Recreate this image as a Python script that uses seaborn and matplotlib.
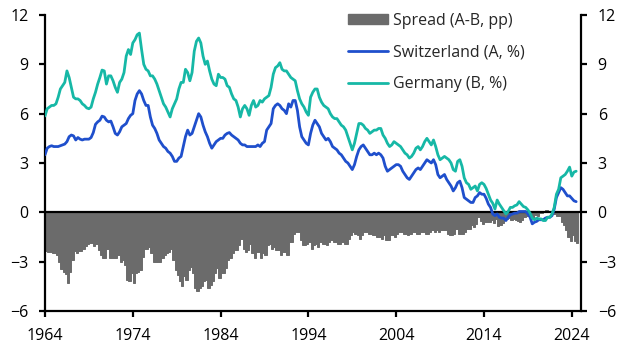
import numpy as np
import pandas as pd
import matplotlib
matplotlib.use("Agg")
from matplotlib import pyplot as plt
from matplotlib.lines import Line2D
from matplotlib.patches import Patch
import seaborn as sns

# quarterly observations, 1964Q1 .. 2024Q3 (decimal years)
quarters = np.arange(1964.0, 2024.51, 0.25)

# 10y government bond yields, %
switzerland = [
    3.5, 3.9, 4.0, 4.05, 4.0, 4.0, 4.0, 4.05, 4.1, 4.15, 4.3, 4.6,
    4.7, 4.65, 4.4, 4.55, 4.45, 4.4, 4.45, 4.45, 4.45, 4.55, 4.85, 5.35,
    5.5, 5.6, 5.85, 5.8, 5.6, 5.5, 5.55, 5.2, 4.8, 4.7, 4.9, 5.2,
    5.3, 5.4, 5.7, 5.9, 6.0, 6.8, 7.2, 7.4, 7.2, 6.8, 6.5, 6.5,
    5.8, 5.3, 5.1, 4.8, 4.4, 4.2, 4.0, 3.9, 3.7, 3.6, 3.4, 3.1,
    3.1, 3.3, 3.4, 4.0, 4.6, 5.0, 4.7, 4.8, 5.2, 5.6, 6.0, 5.8,
    5.3, 4.9, 4.6, 4.2, 3.9, 4.1, 4.3, 4.4, 4.5, 4.5, 4.7, 4.8,
    4.85, 4.7, 4.6, 4.5, 4.4, 4.2, 4.1, 4.1, 4.0, 4.0, 4.0, 4.0,
    4.0, 4.1, 4.0, 4.2, 4.3, 5.0, 5.2, 5.4, 6.3, 6.5, 6.6, 6.5,
    6.3, 6.2, 6.0, 6.6, 6.4, 6.8, 6.8, 6.2, 5.2, 4.6, 4.4, 4.2,
    4.1, 4.8, 5.3, 5.6, 5.4, 5.2, 4.8, 4.6, 4.4, 4.5, 4.3, 4.0,
    3.9, 3.8, 3.6, 3.5, 3.3, 3.1, 3.0, 2.8, 2.6, 2.9, 3.4, 3.8,
    4.0, 4.1, 3.9, 3.7, 3.5, 3.5, 3.6, 3.5, 3.6, 3.5, 3.3, 2.8,
    2.5, 2.6, 2.7, 2.8, 2.9, 2.9, 2.8, 2.5, 2.3, 2.1, 2.0, 2.2,
    2.4, 2.6, 2.7, 2.6, 2.8, 3.0, 3.2, 3.1, 3.0, 3.2, 2.9, 2.3,
    2.1, 2.2, 2.3, 2.0, 1.8, 1.6, 1.3, 1.5, 1.8, 1.9, 1.5, 0.9,
    0.8, 0.7, 0.6, 0.6, 0.9, 1.0, 1.2, 1.1, 1.1, 0.85, 0.5, 0.3,
    -0.1, -0.2, -0.1, -0.3, -0.35, -0.35, -0.5, -0.3, -0.15, -0.1, -0.05, -0.05,
    0.05, 0.05, 0.05, 0.05, -0.1, -0.3, -0.7, -0.6, -0.55, -0.45, -0.45, -0.45,
    -0.35, -0.3, -0.3, -0.2, 0.2, 0.9, 1.2, 1.5, 1.4, 1.2, 1.0, 1.0,
    0.85, 0.7, 0.65,
]
germany = [
    5.86, 6.3, 6.4, 6.5, 6.5, 6.6, 7.0, 7.5, 7.7, 7.9, 8.6, 8.2,
    7.6, 7.0, 6.9, 6.9, 6.8, 6.6, 6.5, 6.35, 6.3, 6.4, 6.9, 7.3,
    7.8, 8.2, 8.65, 8.6, 7.8, 8.3, 8.3, 8.0, 7.6, 7.3, 7.9, 8.1,
    8.5, 9.5, 9.9, 9.6, 10.3, 10.5, 10.8, 10.9, 9.9, 9.0, 8.7, 8.6,
    8.3, 8.3, 8.1, 7.8, 7.4, 7.0, 6.6, 6.4, 6.1, 5.8, 6.3, 6.6,
    6.9, 7.5, 7.9, 7.9, 8.7, 8.5, 8.0, 8.5, 9.8, 10.4, 10.6, 10.3,
    9.5, 9.0, 9.2, 8.6, 8.1, 7.8, 7.7, 8.4, 8.2, 8.2, 8.1, 7.7,
    7.6, 7.2, 6.9, 6.8, 6.4, 5.8, 6.3, 6.5, 6.3, 5.9, 6.5, 6.8,
    6.4, 6.5, 6.8, 6.7, 6.9, 7.0, 7.1, 7.6, 8.4, 8.8, 8.9, 9.1,
    8.7, 8.6, 8.6, 8.4, 8.2, 8.1, 8.0, 7.4, 6.9, 6.6, 6.4, 6.1,
    5.9, 7.0, 7.3, 7.5, 7.5, 7.0, 6.7, 6.5, 6.4, 6.3, 6.0, 5.8,
    5.7, 5.7, 5.5, 5.3, 5.2, 5.0, 4.6, 4.2, 3.8, 4.2, 4.8, 5.4,
    5.4, 5.3, 5.1, 5.0, 4.8, 4.9, 5.0, 5.0, 5.1, 5.1, 4.7, 4.5,
    4.2, 4.0, 4.1, 4.3, 4.2, 4.1, 4.0, 3.8, 3.6, 3.5, 3.3, 3.4,
    3.6, 3.9, 4.0, 3.8, 4.0, 4.3, 4.5, 4.3, 4.1, 4.4, 4.0, 3.5,
    3.2, 3.3, 3.4, 3.3, 3.2, 3.0, 2.6, 2.5, 3.1, 3.2, 2.8, 2.1,
    1.8, 1.7, 1.4, 1.5, 1.6, 1.3, 1.7, 1.8, 1.7, 1.45, 1.1, 0.75,
    0.55, 0.2, 0.75, 0.5, 0.3, 0.1, -0.1, 0.05, 0.3, 0.3, 0.4, 0.45,
    0.65, 0.5, 0.35, 0.3, 0.15, -0.05, -0.35, -0.45, -0.35, -0.4, -0.4, -0.5,
    -0.5, -0.3, -0.3, -0.1, 0.3, 1.1, 1.4, 2.1, 2.2, 2.3, 2.5, 2.75,
    2.2, 2.45, 2.5,
]

df = pd.DataFrame({"date": quarters, "Switzerland": switzerland, "Germany": germany})
df["Spread"] = df["Switzerland"] - df["Germany"]

c_ch = "#1f4fcc"
c_de = "#16b8a6"
c_sp = "#6b6b6b"

sns.set_style("white")
plt.rcParams["font.family"] = ["Open Sans", "DejaVu Sans"]

fig = plt.figure(figsize=(6.31, 3.63), dpi=100)
ax = fig.add_axes([45 / 631, 1 - 311 / 363, 536 / 631, 296 / 363])

ax.bar(df["date"], df["Spread"], width=0.25, align="edge", color=c_sp,
       edgecolor=c_sp, linewidth=0.7, zorder=1)
ax.axhline(0, color="black", linewidth=1.6, zorder=2)
sns.lineplot(data=df, x="date", y="Switzerland", color=c_ch, linewidth=2.0, ax=ax, zorder=3)
sns.lineplot(data=df, x="date", y="Germany", color=c_de, linewidth=2.0, ax=ax, zorder=3)

ax.set_xlim(1964, 2025.05)
ax.set_ylim(-6, 12)
ax.set_xticks([1964, 1974, 1984, 1994, 2004, 2014, 2024])
ax.set_yticks([-6, -3, 0, 3, 6, 9, 12])
ax.set_xlabel("")
ax.set_ylabel("")

for side in ["left", "right", "bottom"]:
    ax.spines[side].set_linewidth(1.6)
    ax.spines[side].set_color("black")
ax.spines["top"].set_visible(False)

ax.tick_params(axis="both", which="both", direction="out", length=4, width=1.6,
               labelsize=11.5, colors="black", pad=5)
ax.tick_params(axis="y", left=True, right=True, labelleft=True, labelright=True, pad=8)
ax.tick_params(axis="x", bottom=True, pad=8)

handles = [
    Patch(facecolor=c_sp, edgecolor=c_sp),
    Line2D([], [], color=c_ch, linewidth=2.0),
    Line2D([], [], color=c_de, linewidth=2.0),
]
labels = ["Spread (A-B, pp)", "Switzerland (A, %)", "Germany (B, %)"]
ax.legend(handles, labels, loc="upper left", bbox_to_anchor=(297 / 536, 1.03),
          frameon=False, fontsize=11.5, handlelength=2.5, handleheight=0.6,
          handletextpad=0.3, labelspacing=1.0, borderaxespad=0)

fig.savefig("out.png", dpi=100)
